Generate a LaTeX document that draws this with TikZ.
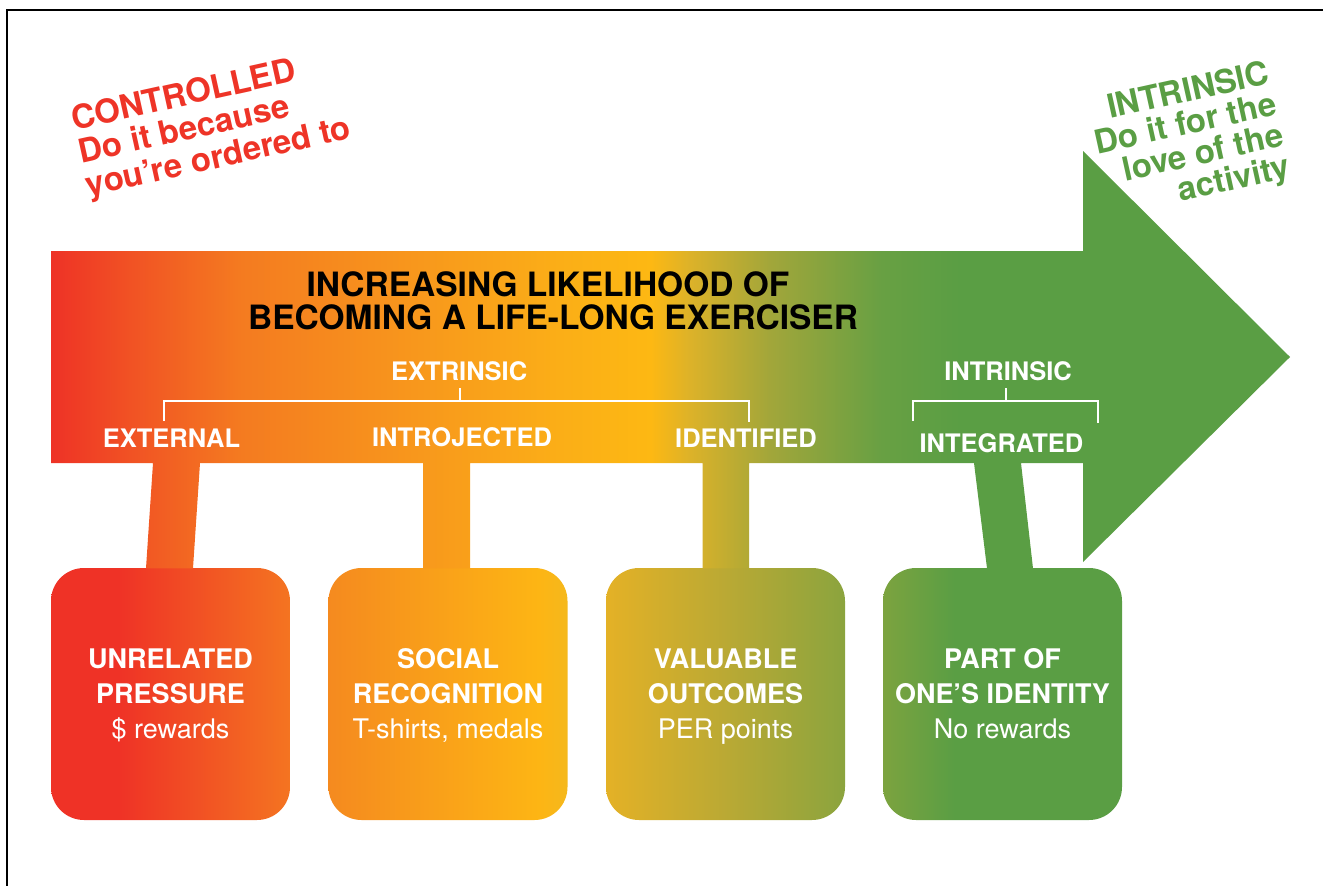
\documentclass[tikz,border=0pt]{standalone}
\usepackage{fontspec}
\setmainfont{TeX Gyre Heros}
\usetikzlibrary{calc}
\definecolor{cRed}{HTML}{EE3427}
\definecolor{cGreen}{HTML}{5A9E44}
\definecolor{aA}{HTML}{EE3226}
\definecolor{aB}{HTML}{F15224}
\definecolor{aC}{HTML}{F47B20}
\definecolor{aD}{HTML}{F8981C}
\definecolor{aE}{HTML}{FBAE17}
\definecolor{aF}{HTML}{FDB813}
\definecolor{aG}{HTML}{DCB229}
\definecolor{aH}{HTML}{A2A63A}
\definecolor{aI}{HTML}{68A043}
\definecolor{aJ}{HTML}{5A9E44}
\definecolor{bA}{HTML}{EF3226}
\definecolor{bB}{HTML}{F47421}
\definecolor{bC}{HTML}{F58A1F}
\definecolor{bD}{HTML}{FDB514}
\definecolor{bE}{HTML}{F5B81C}
\definecolor{bF}{HTML}{E4B126}
\definecolor{bG}{HTML}{BAA934}
\definecolor{bH}{HTML}{8BA43E}
\definecolor{bI}{HTML}{7CA33F}
\pgfdeclarehorizontalshading{arrowshade}{100bp}{color(0bp)=(aA); color(25bp)=(aA); color(28.2bp)=(aB); color(32.7bp)=(aC); color(39.9bp)=(aD); color(45.5bp)=(aE); color(49.2bp)=(aF); color(50.8bp)=(aG); color(54bp)=(aH); color(58.5bp)=(aI); color(61.7bp)=(aJ); color(100bp)=(aJ)}
\pgfdeclarehorizontalshading{boxAshade}{100bp}{color(0bp)=(bA); color(25bp)=(bA); color(39bp)=(bA); color(75bp)=(bB); color(100bp)=(bB)}
\pgfdeclarehorizontalshading{boxBshade}{100bp}{color(0bp)=(bC); color(25bp)=(bC); color(69bp)=(bD); color(75bp)=(bE); color(100bp)=(bE)}
\pgfdeclarehorizontalshading{boxCshade}{100bp}{color(0bp)=(bF); color(25bp)=(bF); color(50bp)=(bG); color(75bp)=(bH); color(100bp)=(bH)}
\pgfdeclarehorizontalshading{boxDshade}{100bp}{color(0bp)=(bI); color(25bp)=(bI); color(40bp)=(aJ); color(75bp)=(aJ); color(100bp)=(aJ)}
\newcommand{\topstrut}{\rule{0pt}{25.6pt}}
\newcommand{\botstrut}{\rule[-7pt]{0pt}{7pt}}
\tikzset{
  lvl/.style={text=white, font=\bfseries\fontsize{25.5}{28}\selectfont, inner sep=0pt, anchor=base},
  ttl/.style={text=black, font=\bfseries\fontsize{33.5}{36}\selectfont, inner sep=0pt, anchor=base},
  catbox/.style={shade, minimum width=239pt, minimum height=252pt, rounded corners=33pt,
    inner sep=0pt, text=white, align=center, font=\fontsize{27}{35}\selectfont},
  brk/.style={draw=white, line width=2pt},
  corner/.style={font=\bfseries\fontsize{33}{34}\selectfont, inner sep=0pt, rotate=12.5},
  frameline/.style={draw=black, line width=1.2pt}
}
\begin{document}
\begin{tikzpicture}[x=1pt, y=-1pt]
\useasboundingbox (0,0) rectangle (1323,886);
\draw[frameline] (7,886) -- (7,10) -- (1323,10);

% boxes
\node[catbox, shading=boxAshade] (box1) at (170.5,694) {\topstrut\textbf{UNRELATED}\\\textbf{PRESSURE}\\\$ rewards\botstrut};
\node[catbox, shading=boxBshade] (box2) at (448,694) {\topstrut\textbf{SOCIAL}\\\textbf{RECOGNITION}\\T-shirts, medals\botstrut};
\node[catbox, shading=boxCshade] (box3) at (725.5,694) {\topstrut\textbf{VALUABLE}\\\textbf{OUTCOMES}\\PER points\botstrut};
\node[catbox, shading=boxDshade] (box4) at (1002.5,694) {\topstrut\textbf{PART OF}\\\textbf{ONE’S IDENTITY}\\No rewards\botstrut};

% arrow with stems
\shade[shading=arrowshade]
  (51,251) -- (1083,251) -- (1083,151) -- (1290,357) -- (1083,562) -- (1083,463)
  -- (1021,463) -- ($(box4.north)+(30.5,0.5)$) -- ($(box4.north)+(-15.5,0.5)$) -- (974,463)
  -- (749,463) -- ($(box3.north)+(23.5,0.5)$) -- ($(box3.north)+(-23,0.5)$) -- (702.5,463)
  -- (470,463) -- ($(box2.north)+(22,0.5)$) -- ($(box2.north)+(-25,0.5)$) -- (423,463)
  -- (200,463) -- ($(box1.north)+(22.5,0.5)$) -- ($(box1.north)+(-24.5,0.5)$) -- (153,463)
  -- (51,463) -- cycle;

% title
\node[ttl] (t1) at (548,296.7) {INCREASING LIKELIHOOD OF};
\node[ttl] (t2) at (553,329) {BECOMING A LIFE-LONG EXERCISER};

% level labels
\node[lvl] (extr) at (459.2,380) {EXTRINSIC};
\node[lvl] (intr) at (1008,380) {INTRINSIC};
\node[lvl] (ext) at (171.5,447) {EXTERNAL};
\node[lvl] (intro) at (462,446.7) {INTROJECTED};
\node[lvl] (iden) at (746,447) {IDENTIFIED};
\node[lvl] (integ) at (1001.5,452.7) {INTEGRATED};

% brackets
\draw[brk] (164,421) -- (164,401) -- (749,401) -- (749,422);
\draw[brk] (459.5,401) -- (459.5,387.5);
\draw[brk] (913,421) -- (913,401) -- (1097.5,401) -- (1097.5,423);
\draw[brk] (1006,401) -- (1006,387.5);

% corner texts
\node[corner, text=cRed, align=left] (ctrl) at (211.5,125.8) {CONTROLLED\\Do it because\\you’re ordered to};
\node[corner, text=cGreen, align=right, font=\bfseries\fontsize{33}{32}\selectfont] (intrt) at (1189.4,141.6) {INTRINSIC\\Do it for the\\love of the\\activity};
\end{tikzpicture}
\end{document}
